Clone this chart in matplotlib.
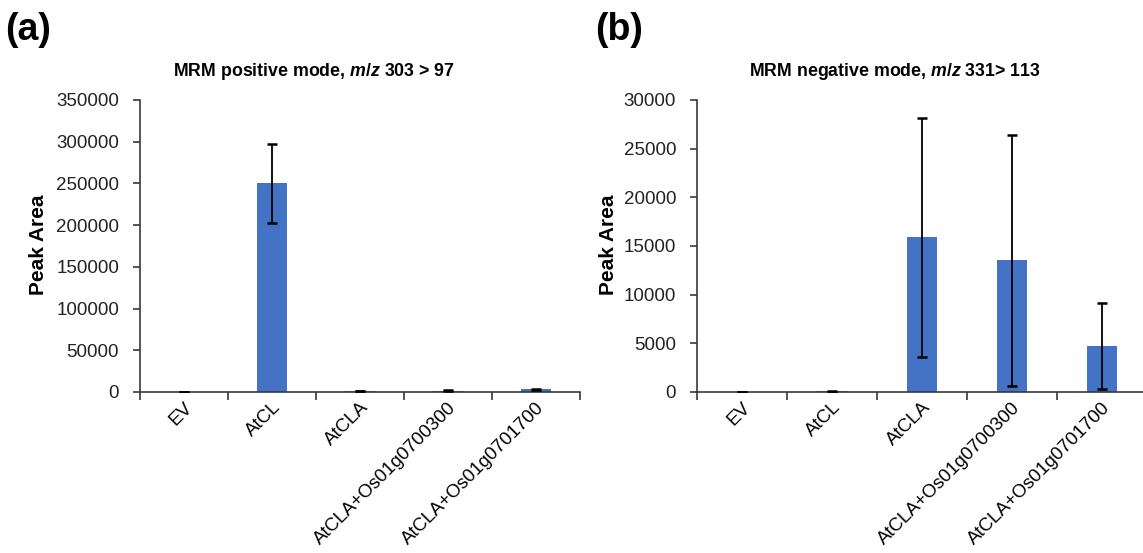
import matplotlib
matplotlib.use("Agg")
import matplotlib.pyplot as plt
import numpy as np

plt.rcParams["font.family"] = ["Liberation Sans", "DejaVu Sans"]
plt.rcParams["mathtext.fontset"] = "custom"
plt.rcParams["mathtext.rm"] = "Liberation Sans:bold"
plt.rcParams["mathtext.it"] = "Liberation Sans:italic:bold"

CATEGORIES = ["EV", "AtCL", "AtCLA", "AtCLA+Os01g0700300", "AtCLA+Os01g0701700"]

# panel (a): MRM positive mode
POS_MEAN = [0, 250000, 1000, 1500, 3000]
POS_ERR = [0, 47500, 300, 500, 1000]

# panel (b): MRM negative mode
NEG_MEAN = [20, 60, 15900, 13550, 4700]
NEG_ERR = [10, 30, 12300, 12900, 4400]

BAR_COLOR = "#4472C4"
AXIS_COLOR = "#3a3a3a"
W, H = 1143, 553


def draw_panel(ax, means, errs, ymax, ystep):
    x = np.arange(len(CATEGORIES))
    ax.bar(x, means, width=0.33, color=BAR_COLOR, zorder=2)
    ax.errorbar(x, means, yerr=errs, fmt="none", ecolor="black",
                elinewidth=1.3, capsize=3.5, capthick=1.8, zorder=3)
    ax.set_xlim(-0.5, len(CATEGORIES) - 0.5)
    ax.set_ylim(0, ymax)
    ax.set_yticks(np.arange(0, ymax + 1, ystep))
    # boundary ticks (Excel style), labels at category centers
    ax.set_xticks(np.arange(-0.5, len(CATEGORIES)), labels=[])
    ax.set_xticks(x, minor=True)
    ax.set_xticklabels(CATEGORIES, minor=True, rotation=45, ha="right",
                       rotation_mode="anchor", fontsize=13.5)
    ax.tick_params(axis="x", which="minor", length=0, pad=5)
    ax.tick_params(axis="x", which="major", length=6, width=1.2, color=AXIS_COLOR)
    ax.tick_params(axis="y", length=5, width=1.2, color=AXIS_COLOR, labelsize=13.5,
                   labelcolor="#222222", pad=10)
    for side in ("top", "right"):
        ax.spines[side].set_visible(False)
    for side in ("left", "bottom"):
        ax.spines[side].set_color(AXIS_COLOR)
        ax.spines[side].set_linewidth(1.2)


fig = plt.figure(figsize=(W / 100, H / 100), dpi=100)

y0 = 1 - 392 / H
hgt = (392 - 100) / H
ax_a = fig.add_axes([140 / W, y0, 440 / W, hgt])
ax_b = fig.add_axes([697 / W, y0, 450 / W, hgt])

draw_panel(ax_a, POS_MEAN, POS_ERR, 350000, 50000)
draw_panel(ax_b, NEG_MEAN, NEG_ERR, 30000, 5000)

fig.text(5 / W, 1 - 30 / H, "(a)", fontsize=27, fontweight="bold", ha="left", va="center")
fig.text(595 / W, 1 - 30 / H, "(b)", fontsize=27, fontweight="bold", ha="left", va="center")

fig.text(314 / W, 1 - 72 / H, r"MRM positive mode, $\mathit{m/z}$ 303 > 97",
         fontsize=12.8, fontweight="bold", ha="center", va="center")
fig.text(895 / W, 1 - 72 / H, r"MRM negative mode, $\mathit{m/z}$ 331> 113",
         fontsize=12.8, fontweight="bold", ha="center", va="center")

fig.text(38 / W, 1 - 245 / H, "Peak Area", fontsize=15, fontweight="bold",
         rotation=90, ha="center", va="center")
fig.text(608 / W, 1 - 245 / H, "Peak Area", fontsize=15, fontweight="bold",
         rotation=90, ha="center", va="center")

fig.savefig("out.png", dpi=100)
